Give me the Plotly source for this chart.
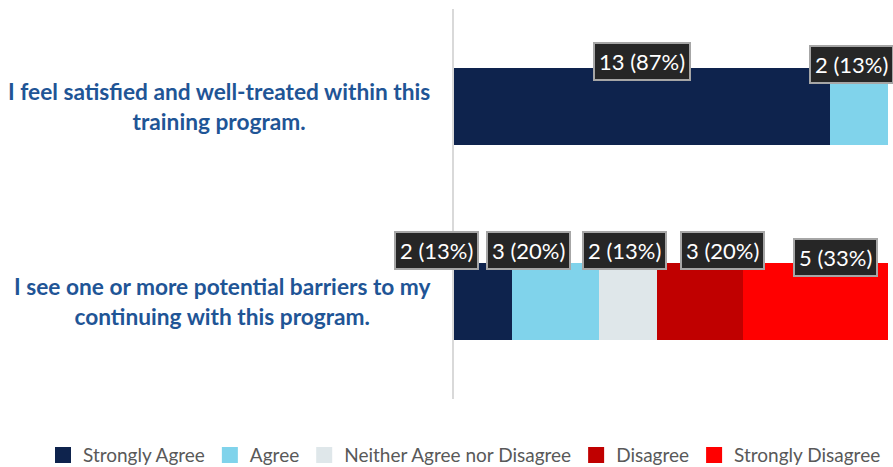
import plotly.graph_objects as go

categories = [
    "I feel satisfied and well-treated within this<br>training program.",
    "I see one or more potential barriers to my<br>continuing with this program.",
]
series_names = ["Strongly Agree", "Agree", "Neither Agree nor Disagree", "Disagree", "Strongly Disagree"]
colors = ["#0E234D", "#80D3EB", "#DFE7EA", "#C00000", "#FF0000"]
# counts per series for [row1, row2]
counts = [
    [13, 2],
    [2, 3],
    [0, 2],
    [0, 3],
    [0, 5],
]
percents = [
    [87, 13],
    [13, 20],
    [0, 13],
    [0, 20],
    [0, 33],
]
# label nudges (pixels) to avoid overlap, per series per row
label_dx = [[0, -46], [-8, -27], [0, -3], [0, 23], [0, 20]]
label_dy = [[45, 51], [42, 51], [0, 51], [0, 51], [0, 44]]

fig = go.Figure()
for i, name in enumerate(series_names):
    fig.add_trace(go.Bar(
        y=categories, x=counts[i],
        name=name, orientation="h", marker=dict(color=colors[i], line=dict(width=0)),
        hoverinfo="skip", showlegend=False, legendgroup=name,
    ))
# legend entries (larger square swatches)
for i, name in enumerate(series_names):
    fig.add_trace(go.Scatter(
        x=[None], y=[None], mode="markers", name=name, legendgroup=name,
        marker=dict(symbol="square", size=16, color=colors[i]),
        showlegend=True, hoverinfo="skip",
    ))

# labels
for r, cat in enumerate(categories):
    cum = 0
    for i in range(len(series_names)):
        v = counts[i][r]
        if v > 0:
            mid = cum + v / 2
            fig.add_annotation(
                x=mid, y=cat, xref="x", yref="y",
                text=f"{v} ({percents[i][r]}%)",
                showarrow=False, xshift=label_dx[i][r], yshift=label_dy[i][r],
                font=dict(family="Lato, Open Sans, sans-serif", size=22, color="white"),
                bgcolor="#262626", bordercolor="#A6A6A6", borderwidth=2, borderpad=4,
            )
        cum += v

# category labels
for cat in categories:
    fig.add_annotation(
        x=0, y=cat, xref="paper", yref="y", xanchor="right", yanchor="middle",
        xshift=-22, text=f"<b>{cat}</b>", showarrow=False, align="center",
        font=dict(family="Lato, Open Sans, sans-serif", size=22.7, color="#1F5596"),
    )

fig.update_layout(
    width=893, height=467,
    margin=dict(l=454, r=5, t=9, b=68, autoexpand=False),
    barmode="stack", bargap=0.605,
    plot_bgcolor="white", paper_bgcolor="white",
    xaxis=dict(range=[0, 15], visible=False, fixedrange=True),
    yaxis=dict(autorange="reversed", showticklabels=False, showline=True,
               linecolor="#D9D9D9", linewidth=2, showgrid=False, zeroline=False,
               ticks=""),
    showlegend=True,
    legend=dict(orientation="h", x=-0.947, y=-0.144, xanchor="left", yanchor="middle",
                font=dict(family="Lato, Open Sans, sans-serif", size=19, color="#595959"),
                traceorder="normal", itemwidth=30),
)

fig.write_html("out.html")
